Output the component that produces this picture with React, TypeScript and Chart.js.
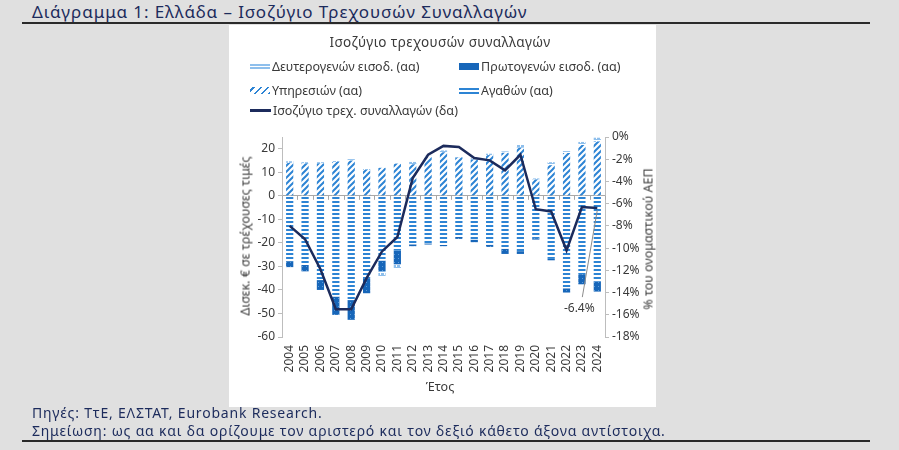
import React, { useEffect, useRef } from 'react';
import { Chart, registerables } from 'chart.js';

Chart.register(...registerables);

// ===== 데이터 =====

const years = [
  '2004', '2005', '2006', '2007', '2008', '2009', '2010', '2011', '2012', '2013', '2014',
  '2015', '2016', '2017', '2018', '2019', '2020', '2021', '2022', '2023', '2024',
];

// Δισεκ. € (αα)
const services = [14.0, 13.8, 13.8, 14.4, 15.0, 11.0, 11.9, 13.7, 13.4, 16.4, 18.5, 16.3, 15.4, 17.3, 18.3, 20.4, 6.9, 13.0, 18.2, 21.6, 22.9];
const goods = [-27.8, -29.4, -35.8, -42.8, -44.3, -35.0, -27.5, -23.3, -20.6, -20.2, -20.9, -17.5, -18.6, -20.8, -22.5, -23.5, -18.0, -26.8, -39.3, -33.3, -36.4];
const primaryIncome = [-2.5, -2.7, -4.2, -7.8, -8.4, -6.4, -4.5, -5.8, -0.8, -0.5, -0.5, -0.8, -1.1, -0.9, -2.2, -1.2, -0.6, -0.6, -1.8, -4.3, -4.3];
const secondaryIncome = [0.7, 0.5, 0.5, 0.6, 0.6, 0.4, -2.3, -1.8, 1.0, 0.6, 0.8, 0.6, 0.6, 0.6, 0.6, 1.3, 0.5, 1.3, 0.8, 1.3, 1.8];

// % του ονομαστικού ΑΕΠ (δα)
const currentAccountPct = [-8.0, -9.2, -11.9, -15.5, -15.5, -12.7, -10.3, -9.0, -3.7, -1.6, -0.8, -0.9, -1.9, -2.1, -3.0, -1.6, -6.5, -6.7, -10.2, -6.3, -6.4];

const leftTicks = [-60, -50, -40, -30, -20, -10, 0, 10, 20];

const legendLabels = {
  secondary: 'Δευτερογενών εισοδ. (αα)',
  primary: 'Πρωτογενών εισοδ. (αα)',
  services: 'Υπηρεσιών (αα)',
  goods: 'Αγαθών (αα)',
  line: 'Ισοζύγιο τρεχ. συναλλαγών (δα)',
};

const FONT = '"Noto Sans", "Open Sans", sans-serif';
const NAVY = '#1c2b5c';
const BLUE = '#2d84d4';
const TEXT = '#3a3a3a';

// ===== 패턴 =====

function makePattern(kind: string): CanvasPattern | string {
  const c = document.createElement('canvas');
  const size = kind === 'services' ? 6 : 4;
  c.width = size;
  c.height = size;
  const g = c.getContext('2d');
  if (!g) return BLUE;
  if (kind === 'services') {
    g.fillStyle = '#ffffff';
    g.fillRect(0, 0, size, size);
    g.strokeStyle = BLUE;
    g.lineWidth = 2;
    g.beginPath();
    g.moveTo(-1, size + 1); g.lineTo(size + 1, -1);
    g.moveTo(-1, 1); g.lineTo(1, -1);
    g.moveTo(size - 1, size + 1); g.lineTo(size + 1, size - 1);
    g.stroke();
  } else if (kind === 'goods') {
    g.fillStyle = '#ffffff';
    g.fillRect(0, 0, size, size);
    g.fillStyle = BLUE;
    g.fillRect(0, 0, size, 2);
  } else if (kind === 'primary') {
    g.fillStyle = '#1766b9';
    g.fillRect(0, 0, size, size);
    g.fillStyle = '#5d9bd8';
    g.fillRect(1, 1, 1, 1);
  } else {
    g.fillStyle = '#8ebfec';
    g.fillRect(0, 0, size, size);
    g.fillStyle = '#ffffff';
    g.fillRect(0, 3, size, 1);
    g.fillRect(3, 0, 1, 2);
  }
  const p = g.createPattern(c, 'repeat');
  return p || BLUE;
}

// 0 선 위의 작은 눈금 + 마지막 값 주석
const extrasPlugin = {
  id: 'extras',
  afterDatasetsDraw(chart: any) {
    const { ctx, scales } = chart;
    const x = scales.x;
    const y = scales.y;
    const zeroY = y.getPixelForValue(0);
    ctx.save();
    ctx.strokeStyle = '#a8a8a8';
    ctx.lineWidth = 1;
    for (let i = 0; i <= years.length; i++) {
      const px = Math.round(x.getPixelForValue(i - 0.5)) + 0.5;
      ctx.beginPath();
      ctx.moveTo(px, zeroY);
      ctx.lineTo(px, zeroY + 4);
      ctx.stroke();
    }
    // -6.4% 주석
    const meta = chart.getDatasetMeta(4);
    const last = meta.data[meta.data.length - 1];
    if (last) {
      const v = currentAccountPct[currentAccountPct.length - 1];
      ctx.strokeStyle = '#8c8c8c';
      ctx.beginPath();
      ctx.moveTo(last.x, last.y + 2);
      ctx.lineTo(last.x - 15, last.y + 89);
      ctx.stroke();
      ctx.fillStyle = TEXT;
      ctx.font = `12px ${FONT}`;
      ctx.textAlign = 'center';
      ctx.textBaseline = 'middle';
      ctx.fillText(`${v.toFixed(1)}%`, last.x - 18, last.y + 100);
    }
    ctx.restore();
  },
};

function BalanceChart() {
  const canvasRef = useRef<HTMLCanvasElement>(null);
  const chartRef = useRef<Chart | null>(null);

  useEffect(() => {
    if (chartRef.current) {
      chartRef.current.destroy();
      chartRef.current = null;
    }
    if (!canvasRef.current) return;
    const ctx = canvasRef.current.getContext('2d');
    if (!ctx) return;

    const barCommon = {
      type: 'bar' as const,
      yAxisID: 'y',
      stack: 'ca',
      borderWidth: 0,
      categoryPercentage: 1,
      barPercentage: 0.47,
      order: 1,
    };

    chartRef.current = new Chart(ctx, {
      type: 'bar',
      data: {
        labels: years,
        datasets: [
          { ...barCommon, label: legendLabels.services, data: services, backgroundColor: makePattern('services') },
          { ...barCommon, label: legendLabels.goods, data: goods, backgroundColor: makePattern('goods') },
          { ...barCommon, label: legendLabels.primary, data: primaryIncome, backgroundColor: makePattern('primary') },
          { ...barCommon, label: legendLabels.secondary, data: secondaryIncome, backgroundColor: makePattern('secondary') },
          {
            type: 'line',
            label: legendLabels.line,
            data: currentAccountPct,
            yAxisID: 'y1',
            borderColor: NAVY,
            backgroundColor: NAVY,
            borderWidth: 2.5,
            pointRadius: 0,
            tension: 0,
            order: 0,
          } as any,
        ],
      },
      options: {
        responsive: true,
        maintainAspectRatio: false,
        animation: false,
        layout: { padding: { top: 112, left: 0, right: 0, bottom: 0 } },
        plugins: {
          legend: { display: false },
          title: { display: false },
          tooltip: { enabled: false },
        },
        scales: {
          x: {
            stacked: true,
            grid: { display: false, drawTicks: false },
            border: { display: false },
            ticks: {
              autoSkip: false,
              minRotation: 90,
              maxRotation: 90,
              padding: 8,
              color: TEXT,
              font: { family: FONT, size: 12 },
            },
            afterFit: (s: any) => { s.height = 70; },
          },
          y: {
            stacked: true,
            position: 'left',
            min: -60,
            max: 25,
            afterBuildTicks: (s: any) => { s.ticks = leftTicks.map(v => ({ value: v })); },
            grid: {
              drawOnChartArea: true,
              color: (c: any) => (c.tick && c.tick.value === 0 ? '#a8a8a8' : 'rgba(0,0,0,0)'),
              tickColor: '#bdbdbd',
              tickLength: 4,
            },
            border: { display: true, color: '#bdbdbd' },
            ticks: { padding: 3, color: TEXT, font: { family: FONT, size: 12 } },
            afterFit: (s: any) => { s.width = 53; },
          },
          y1: {
            position: 'right',
            min: -18,
            max: 0,
            grid: { drawOnChartArea: false, tickColor: '#bdbdbd', tickLength: 4 },
            border: { display: true, color: '#bdbdbd' },
            ticks: {
              stepSize: 2,
              padding: 3,
              color: TEXT,
              font: { family: FONT, size: 12 },
              callback: (v: any) => `${v}%`,
            },
            afterFit: (s: any) => { s.width = 51; },
          },
        },
      },
      plugins: [extrasPlugin],
    });

    return () => {
      if (chartRef.current) {
        chartRef.current.destroy();
        chartRef.current = null;
      }
    };
  }, []);

  return <canvas ref={canvasRef} />;
}

// ===== 범례 견본 =====

const swatch = (bg: string): React.CSSProperties => ({
  display: 'inline-block',
  width: 20,
  height: 7,
  marginRight: 2,
  background: bg,
  verticalAlign: 'middle',
});

const swatchBg = {
  secondary: 'repeating-linear-gradient(0deg, #ffffff 0 1px, #8ebfec 1px 3px)',
  primary: '#1766b9',
  services: `repeating-linear-gradient(-45deg, ${BLUE} 0 2px, #ffffff 2px 5px)`,
  goods: `repeating-linear-gradient(0deg, ${BLUE} 0 2px, #ffffff 2px 4px)`,
};

function LegendItem({ left, top, bg, text, line }: { left: number; top: number; bg?: string; text: string; line?: boolean }) {
  return (
    <div style={{ position: 'absolute', left, top, height: 16, lineHeight: '16px', whiteSpace: 'nowrap', fontSize: 12.5, color: TEXT }}>
      {line ? (
        <span style={{ display: 'inline-block', width: 21, height: 3, background: NAVY, marginRight: 2, verticalAlign: 'middle' }} />
      ) : (
        <span style={swatch(bg || BLUE)} />
      )}
      <span style={{ verticalAlign: 'middle' }}>{text}</span>
    </div>
  );
}

export default function App() {
  return (
    <div style={{ position: 'fixed', left: 0, top: 0, width: 899, height: 450, background: '#e0e0e0', fontFamily: FONT, overflow: 'hidden' }}>
      <div style={{ position: 'absolute', left: 32, top: 1, fontSize: 17, letterSpacing: 0.9, color: NAVY, whiteSpace: 'nowrap', lineHeight: '21px' }}>
        Διάγραμμα 1: Ελλάδα – Ισοζύγιο Τρεχουσών Συναλλαγών
      </div>
      <div style={{ position: 'absolute', left: 22, top: 22, width: 848, height: 2, background: '#2a2a2a' }} />

      <div style={{ position: 'absolute', left: 229, top: 25, width: 427, height: 382, background: '#ffffff' }}>
        <div style={{ position: 'absolute', left: 0, top: 0, width: 427, height: 382 }}>
          <BalanceChart />
        </div>
        <div style={{ position: 'absolute', left: 0, top: 8, width: 422, textAlign: 'center', fontSize: 13.5, color: TEXT, letterSpacing: 0.4, lineHeight: '18px' }}>
          Ισοζύγιο τρεχουσών συναλλαγών
        </div>
        <LegendItem left={21} top={33} bg={swatchBg.secondary} text={legendLabels.secondary} />
        <LegendItem left={230} top={33} bg={swatchBg.primary} text={legendLabels.primary} />
        <LegendItem left={21} top={57} bg={swatchBg.services} text={legendLabels.services} />
        <LegendItem left={230} top={57} bg={swatchBg.goods} text={legendLabels.goods} />
        <LegendItem left={21} top={77} text={legendLabels.line} line />

        <div style={{ position: 'absolute', left: 16, top: 211, transform: 'translate(-50%, -50%) rotate(-90deg)', whiteSpace: 'nowrap', fontSize: 12.5, color: TEXT }}>
          Δισεκ. € σε τρέχουσες τιμές
        </div>
        <div style={{ position: 'absolute', left: 419, top: 214, transform: 'translate(-50%, -50%) rotate(-90deg)', whiteSpace: 'nowrap', fontSize: 12.5, color: TEXT }}>
          % του ονομαστικού ΑΕΠ
        </div>
        <div style={{ position: 'absolute', left: 211, top: 361, transform: 'translate(-50%, -50%)', whiteSpace: 'nowrap', fontSize: 12.5, color: TEXT }}>
          Έτος
        </div>
      </div>

      <div style={{ position: 'absolute', left: 32, top: 405, fontSize: 14, letterSpacing: 0.8, color: NAVY, whiteSpace: 'nowrap', lineHeight: '16px' }}>
        Πηγές: ΤτΕ, ΕΛΣΤΑΤ, Eurobank Research.
      </div>
      <div style={{ position: 'absolute', left: 32, top: 423, fontSize: 14, letterSpacing: 0.8, color: NAVY, whiteSpace: 'nowrap', lineHeight: '16px' }}>
        Σημείωση: ως αα και δα ορίζουμε τον αριστερό και τον δεξιό κάθετο άξονα αντίστοιχα.
      </div>
      <div style={{ position: 'absolute', left: 22, top: 440, width: 848, height: 2, background: '#2a2a2a' }} />
    </div>
  );
}
